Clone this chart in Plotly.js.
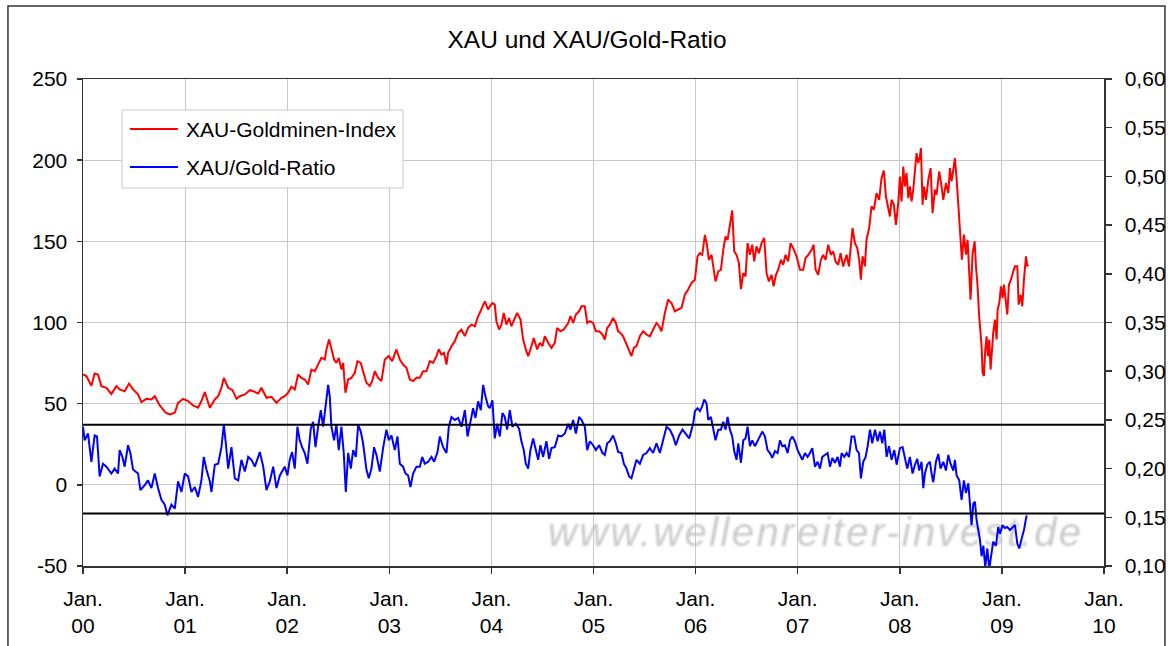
<!DOCTYPE html>
<html>
<head>
<meta charset="utf-8">
<script src="https://cdn.plot.ly/plotly-3.0.1.min.js"></script>
<style>html,body{margin:0;padding:0;background:#fff;}#chart{width:1168px;height:646px;}</style>
</head>
<body>
<div id="chart"></div>
<script>
// ---- Data ----
const xauYears = [
2000.000,2000.033,2000.082,2000.114,2000.147,2000.180,2000.229,2000.278,2000.327,2000.359,2000.408,2000.451,2000.490,2000.539,2000.572,2000.621,2000.670,2000.703,2000.752,2000.810,2000.850,2000.899,2000.931,2000.980,2001.029,2001.078,2001.127,2001.160,2001.193,2001.242,2001.291,2001.324,2001.356,2001.379,2001.422,2001.464,2001.503,2001.536,2001.585,2001.634,2001.667,2001.716,2001.748,2001.797,2001.846,2001.895,2001.944,
2001.976,2002.009,2002.041,2002.074,2002.107,2002.139,2002.172,2002.205,2002.237,2002.270,2002.303,2002.335,2002.368,2002.384,2002.410,2002.433,2002.459,2002.482,2002.505,2002.531,2002.548,2002.570,2002.597,2002.629,2002.662,2002.688,2002.721,2002.743,2002.776,2002.809,2002.832,2002.858,2002.890,2002.923,2002.956,2002.995,2003.028,2003.070,2003.103,2003.135,2003.168,2003.201,2003.233,2003.266,2003.299,2003.331,2003.364,2003.397,2003.429,2003.462,2003.485,2003.511,2003.537,2003.560,2003.576,2003.609,2003.642,2003.674,2003.707,2003.740,2003.772,2003.805,2003.838,2003.864,2003.887,2003.909,2003.936,2003.968,
2003.984,2004.010,2004.033,2004.049,2004.075,2004.098,2004.121,2004.147,2004.173,2004.196,2004.219,2004.252,2004.285,2004.311,2004.337,2004.360,2004.392,2004.415,2004.448,2004.474,2004.500,2004.523,2004.556,2004.588,2004.621,2004.644,2004.676,2004.709,2004.752,2004.774,2004.801,2004.827,2004.859,2004.882,2004.915,2004.938,2004.964,2004.996,2005.023,2005.055,2005.088,2005.111,2005.134,2005.160,2005.192,2005.219,2005.241,2005.264,2005.290,2005.323,2005.349,2005.372,2005.395,2005.421,2005.454,2005.486,2005.519,2005.552,2005.584,2005.617,2005.643,2005.666,2005.699,2005.731,2005.764,2005.797,2005.829,2005.862,2005.895,2005.927,2005.960,
2005.993,2006.019,2006.042,2006.065,2006.091,2006.111,2006.130,2006.156,2006.176,2006.195,2006.222,2006.248,2006.271,2006.293,2006.313,2006.336,2006.359,2006.378,2006.401,2006.424,2006.444,2006.467,2006.489,2006.509,2006.532,2006.555,2006.574,2006.597,2006.620,2006.646,2006.672,2006.695,2006.718,2006.744,2006.764,2006.787,2006.809,2006.836,2006.858,2006.881,2006.907,2006.930,2006.956,2006.989,2007.022,2007.054,2007.077,2007.103,2007.136,2007.156,2007.175,2007.201,2007.227,2007.250,2007.273,2007.299,2007.325,2007.348,2007.371,2007.397,2007.420,2007.446,2007.479,2007.502,
2007.537,2007.560,2007.583,2007.602,2007.619,2007.635,2007.658,2007.674,2007.700,2007.723,2007.746,2007.772,2007.798,2007.821,2007.844,2007.864,2007.887,2007.903,2007.919,2007.942,2007.962,2007.985,
2008.001,2008.017,2008.034,2008.050,2008.066,2008.083,2008.099,2008.115,2008.132,2008.148,2008.164,2008.181,2008.197,2008.207,2008.223,2008.236,2008.256,2008.279,2008.302,2008.321,2008.344,2008.360,2008.386,2008.409,2008.426,2008.452,2008.475,2008.491,2008.507,2008.524,2008.540,2008.556,2008.573,2008.582,2008.595,2008.608,2008.628,2008.648,2008.664,2008.680,2008.693,2008.713,2008.733,2008.746,2008.762,2008.775,2008.791,2008.801,2008.811,2008.824,2008.837,2008.850,2008.863,2008.876,2008.889,2008.902,2008.915,2008.932,2008.948,2008.958,2008.974,2008.991,2009.007,2009.020,2009.040,2009.053,2009.069,2009.089,2009.111,2009.128,2009.151,2009.164,2009.183,2009.200,2009.216,2009.236,2009.249,2009.258
];
const xauValues = [
68,67,61,68.6,68,60.8,59.8,56,60.8,58.8,57.7,62.4,58.8,55.7,51,53,52.6,54.6,48.9,44.4,43.4,44.4,50.5,53,51.6,48.9,47.5,51.6,57.1,47.5,52.6,54.6,59.8,65.9,59.8,58.3,53,54.6,55.7,58.3,57.7,56.3,59.8,53.6,54.2,50.5,53.6,
54.6,56.7,60.4,58.8,68,65.9,64.9,61.8,71,70,74.1,78.2,77.2,83.4,89.5,84.4,77.2,75.1,78.2,71,75.1,56.7,64.9,65.9,69,76.2,75.1,70,62.9,60.8,63.9,70,65.9,63.9,77.2,79.3,76.2,83.4,77.2,74.1,72.1,64.9,63.9,65.9,65.9,70,70,76.2,75.1,79.3,83.4,80.3,81.3,74.1,81.3,85.4,88.5,93.6,95.6,91.6,96.7,98.7,97.7,102.8,105.9,109,113,108,
110,112,111,100.8,95.7,98.7,105.9,98.7,102.8,97.7,100.8,105.9,101.8,89.5,83.4,79.3,85.4,90.5,83.4,87.5,85.4,91.5,87.5,84.4,87.5,96.7,94.6,95.7,99.7,103.9,99.7,104.9,106.9,110,110,99.7,100.8,99.7,94.6,94.6,92.6,89.5,96.7,98.7,102.8,99.7,94.6,93.6,91.5,86.4,82.3,79.3,84.4,85.4,91.5,94.6,92.6,91.5,95.7,99.7,97.7,94.6,105.9,114.1,112,106.9,108,109,117.2,120.3,124.4,
126.3,140.7,142.7,141.7,154,147.9,138.6,141.7,134.5,125.3,131.5,132.5,144.8,153,150.9,161.2,169,143.8,141.7,136.6,120.6,130.4,128.4,148.9,141.7,147.9,137.6,146.9,142.7,148.9,152,130.4,125.3,129.4,122.3,129.4,132.5,138.6,135.6,141.7,137.6,148.9,145.8,140.7,132.5,132.5,139.7,141.7,144.8,147.9,132.5,129.4,138.6,141.7,138.6,147.9,141.7,143.8,137.6,135.6,142.7,134.5,141.7,134.5,
158.2,149,145.9,138.7,126.4,140.8,134.6,151,158.2,171.5,169.5,179.7,175.6,188.9,193.6,177.6,171.5,165.3,175.6,172.5,160.2,173.5,
189.9,174.6,196.1,183.8,192,176.6,183.8,174.6,181.8,193,204.3,198.2,202.3,207.4,172.5,183.8,175.6,187.9,195.1,167.4,181.8,178.7,193,183.8,175.6,185.9,179.7,195.1,186.9,194.1,201.2,188.9,173.5,161.2,151,138.7,154.1,141.8,151,128.4,114.1,142.8,150,134.6,122.3,105.9,95.7,85.4,69,67,83.4,91.5,79.3,89.5,71,85.4,93.6,101.8,89.5,108,112,122.3,115.1,123.3,110,104.9,123.3,126.4,131.5,134.6,134.6,111,117.2,110,126.4,140.8,134.6,135.6
];

const ratioYears = [
2000.000,2000.016,2000.049,2000.082,2000.114,2000.137,2000.163,2000.196,2000.229,2000.278,2000.310,2000.343,2000.359,2000.386,2000.408,2000.441,2000.464,2000.490,2000.539,2000.562,2000.605,2000.637,2000.670,2000.703,2000.735,2000.768,2000.801,2000.827,2000.866,2000.899,2000.931,2000.964,2000.997,2001.029,2001.062,2001.095,2001.127,2001.160,2001.183,2001.209,2001.242,2001.258,2001.291,2001.324,2001.356,2001.379,2001.399,2001.422,2001.454,2001.487,2001.520,2001.552,2001.585,2001.618,2001.650,2001.683,2001.732,2001.765,2001.797,2001.830,2001.863,2001.895,2001.928,
2001.976,2002.002,2002.025,2002.048,2002.074,2002.100,2002.123,2002.146,2002.172,2002.198,2002.231,2002.254,2002.277,2002.303,2002.329,2002.352,2002.374,2002.401,2002.417,2002.433,2002.459,2002.482,2002.505,2002.531,2002.554,2002.574,2002.597,2002.623,2002.646,2002.672,2002.695,2002.721,2002.743,2002.776,2002.799,2002.825,2002.851,2002.874,2002.907,2002.939,2002.972,2002.995,2003.021,2003.054,2003.080,2003.103,2003.135,2003.158,2003.184,2003.207,2003.233,2003.266,2003.299,2003.322,2003.348,2003.380,2003.413,2003.439,2003.472,2003.495,2003.527,2003.560,2003.583,2003.609,2003.642,2003.674,2003.707,2003.740,2003.766,2003.789,2003.821,2003.844,2003.870,2003.896,2003.919,2003.942,2003.968,
2003.984,2004.010,2004.033,2004.056,2004.082,2004.108,2004.131,2004.154,2004.180,2004.206,2004.239,2004.271,2004.294,2004.317,2004.337,2004.360,2004.382,2004.409,2004.435,2004.458,2004.480,2004.507,2004.539,2004.565,2004.588,2004.621,2004.654,2004.686,2004.719,2004.752,2004.774,2004.801,2004.827,2004.859,2004.882,2004.915,2004.938,2004.964,2004.996,2005.023,2005.055,2005.088,2005.111,2005.134,2005.160,2005.192,2005.219,2005.241,2005.274,2005.297,2005.323,2005.349,2005.372,2005.395,2005.421,2005.454,2005.486,2005.519,2005.552,2005.584,2005.617,2005.650,2005.682,2005.715,2005.748,2005.780,2005.806,2005.839,2005.872,2005.905,2005.937,2005.976,
2005.993,2006.019,2006.042,2006.065,2006.084,2006.107,2006.124,2006.150,2006.173,2006.195,2006.222,2006.248,2006.271,2006.293,2006.313,2006.336,2006.359,2006.378,2006.401,2006.418,2006.444,2006.467,2006.489,2006.509,2006.532,2006.555,2006.581,2006.607,2006.630,2006.653,2006.679,2006.705,2006.728,2006.751,2006.777,2006.803,2006.826,2006.849,2006.875,2006.901,2006.924,2006.947,2006.973,2006.999,2007.022,2007.045,2007.071,2007.097,2007.120,2007.143,2007.169,2007.195,2007.218,2007.241,2007.267,2007.293,2007.316,2007.339,2007.365,2007.391,2007.414,2007.430,2007.456,2007.479,2007.502,2007.528,2007.554,2007.577,2007.600,2007.619,2007.642,2007.665,2007.685,2007.708,2007.730,2007.757,2007.783,2007.806,2007.828,2007.848,2007.871,2007.894,2007.920,2007.946,2007.969,2007.992,
2008.001,2008.027,2008.050,2008.073,2008.099,2008.125,2008.148,2008.171,2008.190,2008.213,2008.230,2008.246,2008.269,2008.295,2008.311,2008.328,2008.354,2008.377,2008.399,2008.426,2008.452,2008.475,2008.497,2008.524,2008.540,2008.556,2008.582,2008.605,2008.628,2008.648,2008.671,2008.687,2008.703,2008.720,2008.736,2008.752,2008.769,2008.785,2008.801,2008.818,2008.837,2008.857,2008.876,2008.896,2008.915,2008.942,2008.964,2008.981,2009.007,2009.030,2009.053,2009.079,2009.105,2009.128,2009.151,2009.170,2009.193,2009.216,2009.242
];
const ratioValues = [
0.243,0.229,0.236,0.207,0.234,0.233,0.192,0.205,0.202,0.195,0.200,0.195,0.219,0.212,0.202,0.224,0.216,0.199,0.195,0.178,0.183,0.188,0.180,0.195,0.180,0.168,0.163,0.152,0.163,0.159,0.187,0.176,0.195,0.192,0.176,0.181,0.171,0.188,0.212,0.199,0.187,0.176,0.204,0.205,0.222,0.245,0.226,0.200,0.222,0.190,0.188,0.209,0.197,0.212,0.209,0.202,0.217,0.202,0.178,0.187,0.202,0.180,0.193,
0.202,0.193,0.209,0.217,0.200,0.243,0.229,0.222,0.216,0.205,0.241,0.248,0.222,0.243,0.260,0.243,0.264,0.286,0.274,0.243,0.229,0.245,0.219,0.243,0.216,0.176,0.216,0.200,0.219,0.212,0.245,0.238,0.226,0.199,0.190,0.200,0.222,0.214,0.197,0.221,0.240,0.229,0.234,0.219,0.233,0.205,0.202,0.195,0.193,0.181,0.195,0.202,0.202,0.212,0.205,0.207,0.212,0.207,0.217,0.233,0.222,0.216,0.243,0.253,0.250,0.252,0.243,0.260,0.233,0.245,0.262,0.252,0.269,0.260,0.286,0.274,0.264,
0.262,0.270,0.231,0.246,0.233,0.257,0.253,0.240,0.260,0.243,0.246,0.241,0.228,0.219,0.205,0.200,0.219,0.231,0.219,0.209,0.224,0.212,0.228,0.210,0.221,0.222,0.234,0.233,0.236,0.246,0.240,0.250,0.236,0.253,0.250,0.243,0.219,0.228,0.224,0.219,0.224,0.216,0.214,0.226,0.228,0.234,0.226,0.217,0.216,0.205,0.200,0.192,0.190,0.200,0.209,0.205,0.214,0.216,0.221,0.216,0.226,0.216,0.228,0.243,0.240,0.233,0.224,0.234,0.240,0.236,0.231,0.246,
0.259,0.262,0.259,0.264,0.271,0.267,0.250,0.253,0.241,0.229,0.240,0.240,0.248,0.240,0.253,0.240,0.233,0.218,0.209,0.226,0.206,0.229,0.231,0.243,0.223,0.229,0.223,0.229,0.233,0.238,0.233,0.219,0.216,0.211,0.218,0.216,0.229,0.223,0.224,0.216,0.229,0.233,0.228,0.219,0.214,0.209,0.216,0.212,0.216,0.221,0.202,0.207,0.200,0.212,0.214,0.216,0.202,0.211,0.206,0.212,0.202,0.216,0.212,0.216,0.212,0.233,0.233,0.219,0.216,0.190,0.207,0.212,0.223,0.240,0.226,0.240,0.228,0.238,0.226,0.240,0.212,0.223,0.209,0.219,0.204,0.219,
0.221,0.222,0.209,0.200,0.212,0.195,0.204,0.210,0.198,0.207,0.180,0.195,0.204,0.207,0.195,0.186,0.207,0.215,0.200,0.207,0.198,0.214,0.205,0.198,0.209,0.193,0.188,0.168,0.188,0.175,0.185,0.161,0.142,0.164,0.166,0.147,0.135,0.127,0.110,0.121,0.099,0.118,0.097,0.110,0.125,0.121,0.140,0.133,0.142,0.139,0.140,0.137,0.140,0.142,0.123,0.118,0.128,0.137,0.152
];

const refLines = [0.245, 0.154];
const xTickYears = [2000,2001,2002,2003,2004,2005,2006,2007,2008,2009,2010];
const xTickLabels = ['Jan.<br>00','Jan.<br>01','Jan.<br>02','Jan.<br>03','Jan.<br>04','Jan.<br>05','Jan.<br>06','Jan.<br>07','Jan.<br>08','Jan.<br>09','Jan.<br>10'];
const leftTickVals = [-50,0,50,100,150,200,250];
const leftTickText = ['-50','0','50','100','150','200','250'];
const seriesNames = ['XAU-Goldminen-Index','XAU/Gold-Ratio'];
const titleText = 'XAU und XAU/Gold-Ratio';
const watermarkText = 'www.wellenreiter-invest.de';

// ---- Plot ----
const FONT = 'Liberation Sans, Arial, sans-serif';
const RED = '#ff0000', BLUE = '#0000ff';

const traces = [
  {x: xauYears, y: xauValues, type: 'scatter', mode: 'lines', name: seriesNames[0],
   line: {color: RED, width: 2}, yaxis: 'y', showlegend: false, hoverinfo: 'skip'},
  {x: ratioYears, y: ratioValues, type: 'scatter', mode: 'lines', name: seriesNames[1],
   line: {color: BLUE, width: 2}, yaxis: 'y2', showlegend: false, hoverinfo: 'skip'}
];

const wmSvg = '<svg xmlns="http://www.w3.org/2000/svg" width="560" height="50">' +
  '<defs><filter id="b" x="-5%" y="-20%" width="110%" height="140%"><feGaussianBlur stdDeviation="1"/></filter></defs>' +
  '<text x="2" y="36" font-family="Liberation Sans, Arial, sans-serif" font-style="italic" font-size="40" fill="#cacaca" ' +
  'textLength="533" lengthAdjust="spacing" filter="url(#b)">' + watermarkText + '</text></svg>';

const shapes = [
  // outer chart frame
  {type: 'rect', xref: 'paper', yref: 'paper', x0: -0.0735, x1: 1.0597, y0: -0.18, y1: 1.1499,
   line: {color: '#333333', width: 1.5}, fillcolor: 'rgba(0,0,0,0)', layer: 'below'},
  // legend box
  {type: 'rect', xref: 'paper', yref: 'paper', x0: 0.0382, x1: 0.3134, y0: 0.7762, y1: 0.9363,
   line: {color: '#c8c8c8', width: 1}, fillcolor: '#ffffff', layer: 'above'},
  {type: 'line', xref: 'paper', yref: 'paper', x0: 0.046, x1: 0.093, y0: 0.8973, y1: 0.8973,
   line: {color: RED, width: 2}},
  {type: 'line', xref: 'paper', yref: 'paper', x0: 0.046, x1: 0.093, y0: 0.8193, y1: 0.8193,
   line: {color: BLUE, width: 2}}
];
refLines.forEach(v => shapes.push({type: 'line', xref: 'paper', yref: 'y2', x0: 0, x1: 1, y0: v, y1: v,
  line: {color: '#000000', width: 2}}));

const layout = {
  width: 1168, height: 646,
  margin: {l: 83, r: 64, t: 79, b: 80, pad: 0},
  paper_bgcolor: '#ffffff', plot_bgcolor: 'rgba(0,0,0,0)',
  separators: ',.',
  font: {family: FONT, size: 21, color: '#000000'},
  title: {text: titleText, font: {family: FONT, size: 24.5, color: '#000000'},
          x: 0.5026, xanchor: 'center', xref: 'container', y: 0.9396, yanchor: 'middle', yref: 'container'},
  showlegend: false,
  xaxis: {type: 'linear', range: [2000, 2010], tickvals: xTickYears, ticktext: xTickLabels,
          showgrid: true, gridcolor: '#c8c8c8', gridwidth: 1, zeroline: false,
          showline: true, linecolor: '#333333', linewidth: 1.5, mirror: true,
          ticks: 'outside', ticklen: 6, tickcolor: '#333333', tickwidth: 1.5,
          ticklabelstandoff: 7, tickfont: {family: FONT, size: 21, color: '#000'}, fixedrange: true},
  yaxis: {range: [-50, 250], tickvals: leftTickVals, ticktext: leftTickText,
          showgrid: true, gridcolor: '#c8c8c8', gridwidth: 1, zeroline: false,
          showline: true, linecolor: '#333333', linewidth: 1.5, mirror: true,
          ticks: 'outside', ticklen: 5, tickcolor: '#333333', tickwidth: 1.5,
          ticklabelstandoff: 5, tickfont: {family: FONT, size: 21, color: '#000'}, fixedrange: true},
  yaxis2: {range: [0.10, 0.60], tick0: 0.10, dtick: 0.05, tickformat: '.2f', overlaying: 'y', side: 'right',
           showgrid: false, zeroline: false, showline: true, linecolor: '#333333', linewidth: 1.5,
           ticks: 'outside', ticklen: 6, tickcolor: '#333333', tickwidth: 1.5,
           ticklabelstandoff: 9, tickfont: {family: FONT, size: 21, color: '#000'}, fixedrange: true},
  shapes: shapes,
  annotations: [
    {xref: 'paper', yref: 'paper', x: 0.0989, y: 0.8973, xanchor: 'left', yanchor: 'middle', showarrow: false,
     text: seriesNames[0], font: {family: FONT, size: 21, color: '#000'}},
    {xref: 'paper', yref: 'paper', x: 0.0989, y: 0.8193, xanchor: 'left', yanchor: 'middle', showarrow: false,
     text: seriesNames[1], font: {family: FONT, size: 21, color: '#000'}}
  ],
  images: [
    {source: 'data:image/svg+xml;charset=utf-8,' + encodeURIComponent(wmSvg),
     xref: 'paper', yref: 'paper', x: 0.4535, y: 0.115, sizex: 0.5485, sizey: 0.1027,
     xanchor: 'left', yanchor: 'top', sizing: 'stretch', layer: 'below'}
  ]
};

Plotly.newPlot('chart', traces, layout, {displayModeBar: false, staticPlot: true});
</script>
</body>
</html>
